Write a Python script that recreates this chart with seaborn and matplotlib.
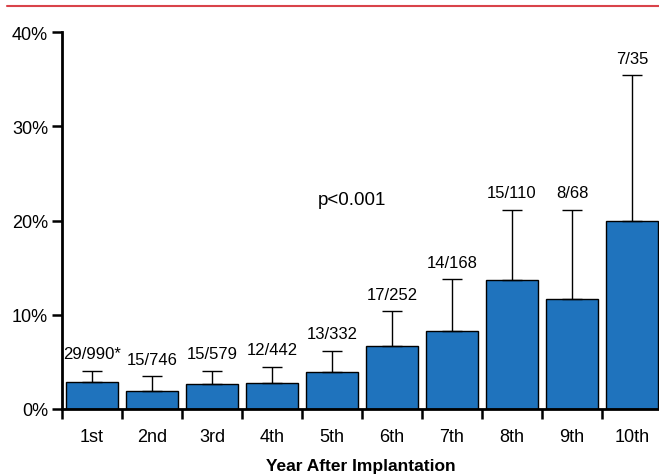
import numpy as np
import pandas as pd
import matplotlib
matplotlib.use("Agg")
import matplotlib.pyplot as plt
import seaborn as sns
from matplotlib.lines import Line2D
from matplotlib.ticker import FixedLocator

# Values
years = ["1st", "2nd", "3rd", "4th", "5th", "6th", "7th", "8th", "9th", "10th"]
rate = [2.9, 1.9, 2.65, 2.8, 3.95, 6.7, 8.25, 13.7, 11.7, 20.0]   # %
upper = [4.05, 3.5, 4.05, 4.5, 6.2, 10.4, 13.75, 21.15, 21.15, 35.4]  # % (upper CI)
counts = ["29/990*", "15/746", "15/579", "12/442", "13/332",
          "17/252", "14/168", "15/110", "8/68", "7/35"]

df = pd.DataFrame({"Year": years, "Rate": rate})

sns.set_style("white")
plt.rcParams["font.family"] = ["Liberation Sans", "DejaVu Sans"]
plt.rcParams["text.color"] = "black"
plt.rcParams["xtick.color"] = "black"
plt.rcParams["ytick.color"] = "black"
plt.rcParams["axes.labelcolor"] = "black"

fig = plt.figure(figsize=(6.59, 4.77), dpi=100)
ax = fig.add_axes([62 / 659, 67 / 477, 1 - 62 / 659, 377 / 477])

sns.barplot(data=df, x="Year", y="Rate", color="#1f73bd", saturation=1,
            width=0.87, edgecolor="black", linewidth=1.0, ax=ax)

pos = np.arange(len(years))
err = np.array(upper) - np.array(rate)
ax.errorbar(pos, rate, yerr=[np.zeros(len(rate)), err], fmt="none",
            ecolor="black", elinewidth=1.0, capsize=7, capthick=1.0, zorder=1)

for x, u, c in zip(pos, upper, counts):
    ax.text(x, u + 1.0, c, ha="center", va="bottom", fontsize=12)

ax.text(4.33, 22.2, "p<0.001", ha="center", va="center", fontsize=13.5)

ax.set_xlim(-0.5, 9.45)
ax.set_ylim(0, 40)
ax.set_yticks([0, 10, 20, 30, 40])
ax.set_yticklabels([f"{v}%" for v in [0, 10, 20, 30, 40]], fontsize=13)
ax.tick_params(axis="y", left=True, direction="out", length=7, width=1.8, pad=3)
ax.tick_params(axis="x", which="major", bottom=True, length=0, pad=14, labelsize=13)
ax.xaxis.set_minor_locator(FixedLocator(np.arange(-0.5, 9.0, 1.0)))
ax.tick_params(axis="x", which="minor", bottom=True, direction="out", length=7, width=1.8)

ax.set_xlabel("Year After Implantation", fontsize=12.5, fontweight="bold", labelpad=9)
ax.set_ylabel("")

for s in ["top", "right"]:
    ax.spines[s].set_visible(False)
for s in ["left", "bottom"]:
    ax.spines[s].set_color("black")
    ax.spines[s].set_linewidth(2.0)

# red rule across the top
fig.add_artist(Line2D([7 / 659, 1.0], [1 - 7 / 477, 1 - 7 / 477],
                      color="#d9434a", linewidth=1.5))

fig.savefig("out.png", dpi=100)
